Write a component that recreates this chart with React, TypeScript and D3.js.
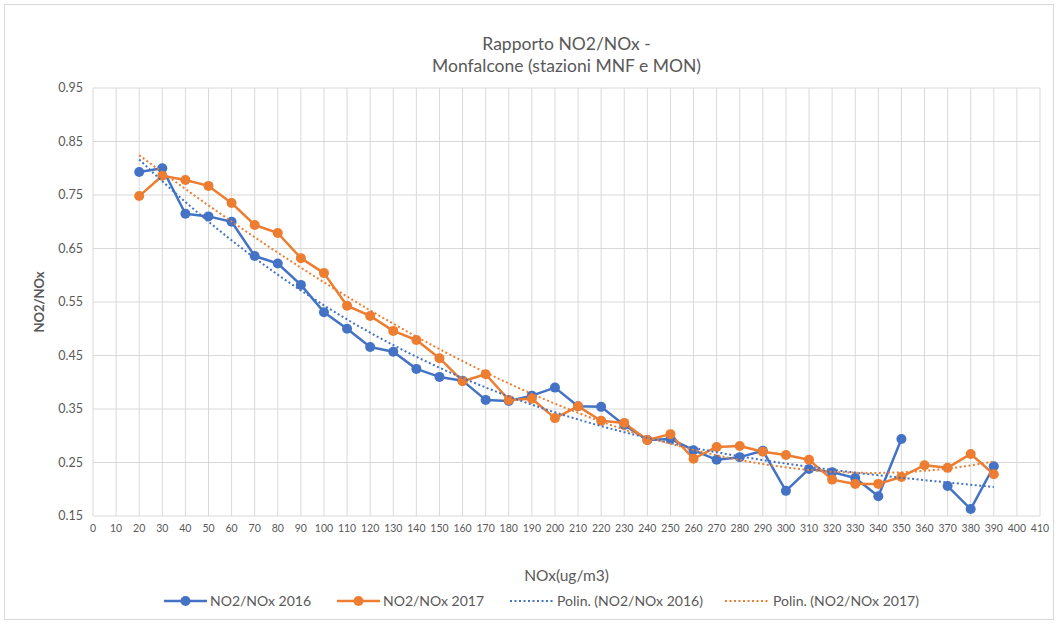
import React from "react";
import * as d3 from "d3";

const nox: number[] = [20,30,40,50,60,70,80,90,100,110,120,130,140,150,160,170,180,190,200,210,220,230,240,250,260,270,280,290,300,310,320,330,340,350,360,370,380,390];
const ratio2016: (number | null)[] = [0.793,0.80,0.715,0.71,0.70,0.636,0.622,0.582,0.531,0.50,0.466,0.457,0.425,0.41,0.403,0.367,0.365,0.375,0.39,0.355,0.354,0.32,0.292,0.294,0.273,0.255,0.26,0.272,0.197,0.238,0.232,0.221,0.187,0.294,null,0.206,0.163,0.243];
const ratio2017: number[] = [0.748,0.786,0.778,0.767,0.735,0.694,0.679,0.632,0.604,0.543,0.524,0.496,0.479,0.445,0.402,0.415,0.367,0.369,0.333,0.355,0.328,0.324,0.292,0.303,0.257,0.279,0.281,0.27,0.264,0.255,0.218,0.21,0.21,0.223,0.245,0.24,0.266,0.228];
const yTicks: number[] = [0.15,0.25,0.35,0.45,0.55,0.65,0.75,0.85,0.95];
const xTicks: number[] = d3.range(0, 420, 10);
const titleLines: string[] = ["Rapporto NO2/NOx -", "Monfalcone (stazioni MNF e MON)"];
const legendLabels: string[] = ["NO2/NOx 2016", "NO2/NOx 2017", "Polin. (NO2/NOx 2016)", "Polin. (NO2/NOx 2017)"];
const trendOrder = 3;

const BLUE = "#4472C4";
const ORANGE = "#ED7D31";
const TXT = "#595959";
const FONT = "Lato, 'Open Sans', sans-serif";

// least squares polynomial fit (like Excel trendline)
function polyFit(xs: number[], ys: number[], order: number): number[] {
  const n = order + 1;
  const sx = (v: number) => v / 100;
  const A: number[][] = Array.from({ length: n }, () => new Array(n + 1).fill(0));
  for (let k = 0; k < xs.length; k++) {
    const x = sx(xs[k]), y = ys[k];
    for (let i = 0; i < n; i++) {
      for (let j = 0; j < n; j++) A[i][j] += Math.pow(x, i + j);
      A[i][n] += y * Math.pow(x, i);
    }
  }
  for (let i = 0; i < n; i++) {
    let p = i;
    for (let r = i + 1; r < n; r++) if (Math.abs(A[r][i]) > Math.abs(A[p][i])) p = r;
    [A[i], A[p]] = [A[p], A[i]];
    for (let r = 0; r < n; r++) {
      if (r === i) continue;
      const f = A[r][i] / A[i][i];
      for (let c = i; c <= n; c++) A[r][c] -= f * A[i][c];
    }
  }
  return A.map((row, i) => row[n] / row[i]);
}
const evalPoly = (c: number[], x: number) => c.reduce((s, a, i) => s + a * Math.pow(x / 100, i), 0);

export default function App() {
  const W = 1058, H = 624;
  const left = 93, right = 1040, top = 88, bottom = 516;
  const x = d3.scaleLinear().domain([0, 410]).range([left, right]);
  const y = d3.scaleLinear().domain([0.15, 0.95]).range([bottom, top]);

  const s2016 = nox.map((n, i) => ({ x: n, y: ratio2016[i] }));
  const s2017 = nox.map((n, i) => ({ x: n, y: ratio2017[i] as number | null }));
  const line = d3.line<{ x: number; y: number | null }>()
    .defined(d => d.y != null)
    .x(d => x(d.x))
    .y(d => y(d.y as number));

  const v16 = s2016.filter(d => d.y != null);
  const c16 = polyFit(v16.map(d => d.x), v16.map(d => d.y as number), trendOrder);
  const c17 = polyFit(nox, ratio2017, trendOrder);
  const xs = d3.range(20, 390.01, 2);
  const trend = d3.line<number[]>().x(d => x(d[0])).y(d => y(d[1]));
  const t16 = trend(xs.map(v => [v, evalPoly(c16, v)]));
  const t17 = trend(xs.map(v => [v, evalPoly(c17, v)]));

  const legendY = 601;
  const legendItems = [
    { x0: 164, color: BLUE, dotted: false, tx: 210, label: legendLabels[0] },
    { x0: 337, color: ORANGE, dotted: false, tx: 383, label: legendLabels[1] },
    { x0: 510, color: BLUE, dotted: true, tx: 557, label: legendLabels[2] },
    { x0: 725, color: ORANGE, dotted: true, tx: 773, label: legendLabels[3] },
  ];

  return (
    <div style={{ position: "absolute", left: 0, top: 0 }}>
      <svg width={W} height={H} style={{ display: "block", background: "#fff" }}>
        <rect x={4.5} y={4.5} width={W - 9} height={H - 9} fill="#fff" stroke="#D9D9D9" />
        {xTicks.map(t => (
          <line key={"gx" + t} x1={x(t)} x2={x(t)} y1={top} y2={bottom} stroke="#D9D9D9" strokeWidth={1} />
        ))}
        {yTicks.map(t => (
          <line key={"gy" + t} x1={left} x2={right} y1={y(t)} y2={y(t)} stroke="#D9D9D9" strokeWidth={1} />
        ))}
        {yTicks.map(t => (
          <text key={"ly" + t} x={left - 10} y={y(t)} dy="0.35em" textAnchor="end" fontSize={12.5} fill={TXT} fontFamily={FONT}>
            {t.toFixed(2)}
          </text>
        ))}
        {xTicks.map(t => (
          <text key={"lx" + t} x={x(t)} y={bottom + 16} textAnchor="middle" fontSize={10.5} fill={TXT} fontFamily={FONT}>
            {t}
          </text>
        ))}
        <text x={(left + right) / 2} y={581} textAnchor="middle" fontSize={15.5} fill={TXT} fontFamily={FONT}>NOx(ug/m3)</text>
        <text transform={`translate(44,${(top + bottom) / 2}) rotate(-90)`} textAnchor="middle" fontSize={13} fontWeight="bold" fill={TXT} fontFamily={FONT}>NO2/NOx</text>
        {titleLines.map((l, i) => (
          <text key={l} x={(left + right) / 2} y={50 + i * 22} textAnchor="middle" fontSize={17.5} fill={TXT} fontFamily={FONT}>{l}</text>
        ))}

        <path d={line(s2016) || ""} fill="none" stroke={BLUE} strokeWidth={2.5} strokeLinejoin="round" />
        <path d={line(s2017) || ""} fill="none" stroke={ORANGE} strokeWidth={2.5} strokeLinejoin="round" />
        {v16.map(d => (
          <circle key={"b" + d.x} cx={x(d.x)} cy={y(d.y as number)} r={5} fill={BLUE} />
        ))}
        {s2017.map(d => (
          <circle key={"o" + d.x} cx={x(d.x)} cy={y(d.y as number)} r={5} fill={ORANGE} />
        ))}
        <path d={t16 || ""} fill="none" stroke={BLUE} strokeWidth={2} strokeDasharray="2 2.5" />
        <path d={t17 || ""} fill="none" stroke={ORANGE} strokeWidth={2} strokeDasharray="2 2.5" />

        {legendItems.map(it => (
          <g key={it.label}>
            {it.dotted ? (
              <line x1={it.x0} x2={it.x0 + 43} y1={legendY} y2={legendY} stroke={it.color} strokeWidth={2} strokeDasharray="2 2.5" />
            ) : (
              <g>
                <line x1={it.x0} x2={it.x0 + 43} y1={legendY} y2={legendY} stroke={it.color} strokeWidth={2.5} />
                <circle cx={it.x0 + 21.5} cy={legendY} r={5} fill={it.color} />
              </g>
            )}
            <text x={it.tx} y={legendY} dy="0.35em" fontSize={14} fill={TXT} fontFamily={FONT}>{it.label}</text>
          </g>
        ))}
      </svg>
    </div>
  );
}
